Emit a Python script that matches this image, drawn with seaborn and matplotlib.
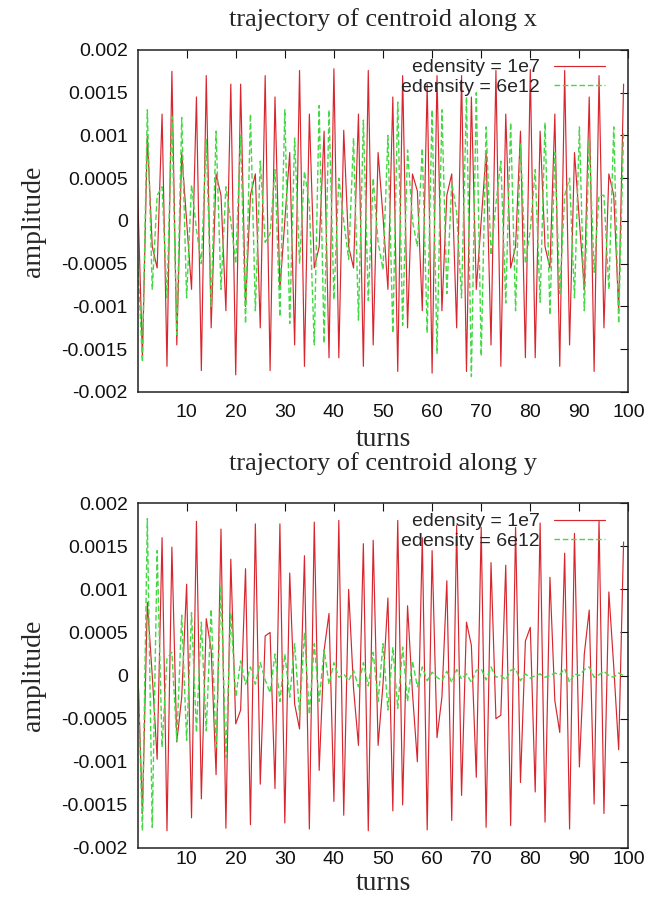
import numpy as np
import seaborn as sb
import matplotlib.pyplot as plt
from matplotlib.ticker import FixedLocator, FixedFormatter

# turn index and centroid amplitudes (units of 1e-3)
turns = list(range(100))

x_1e7 = [0.4, -1.6, 1.0, -0.3, -0.55, 1.25, -1.7, 1.75, -1.45, 0.8,
         0.0, -0.8, 1.45, -1.75, 1.7, -1.25, 0.55, 0.3, -1.05, 1.6,
         -1.8, 1.6, -1.0, 0.3, 0.55, -1.25, 1.7, -1.75, 1.45, -0.8,
         0.0, 0.8, -1.45, 1.76, -1.7, 1.25, -0.55, -0.3, 1.05, -1.6,
         1.78, -1.6, 1.06, -0.3, -0.55, 1.25, -1.7, 1.76, -1.45, 0.8,
         0.05, -0.8, 1.45, -1.76, 1.7, -1.25, 0.55, 0.35, -1.05, 1.6,
         -1.78, 1.7, -1.05, 0.3, 0.55, -1.25, 1.7, -1.76, 1.45, -0.8,
         0.0, 0.8, -1.45, 1.76, -1.7, 1.25, -0.55, -0.3, 1.05, -1.6,
         1.77, -1.6, 1.05, -0.3, -0.55, 1.25, -1.7, 1.76, -1.45, 0.8,
         0.0, -0.8, 1.45, -1.76, 1.7, -1.25, 0.55, 0.3, -1.05, 1.6]

x_6e12 = [-0.4, -1.65, 1.3, -0.8, 0.3, 0.4, -0.9, 1.22, -1.33, 1.21,
          -0.9, 0.42, -0.1, -0.5, 0.95, -1.0, 1.05, -0.8, 0.4, 0.0,
          -0.5, 1.0, -1.2, 1.25, -1.05, 0.7, -0.25, -0.15, 0.6, -1.12,
          1.3, -1.2, 0.97, -0.5, 0.58, 0.2, -1.45, 1.35, -1.43, 1.3,
          -0.92, 0.5, 0.0, -0.45, 0.97, -1.16, 1.18, -0.93, 0.5, -0.25,
          -0.57, 1.0, -1.31, 1.39, -1.22, 0.83, 0.0, -0.3, 0.85, -1.31,
          1.3, -1.55, 1.3, -0.85, 0.45, 0.1, -0.9, 1.45, -1.82, 1.5,
          -1.58, 1.1, -0.4, 0.2, 0.7, -0.96, 1.15, -1.05, 0.9, -0.5,
          -0.1, 0.6, -0.95, 1.15, -1.1, 0.8, -0.85, 0.3, 0.5, -0.9,
          1.1, -1.05, 0.95, -0.6, 0.3, 0.3, -0.8, 1.1, -1.2, 1.05]

y_1e7 = [0.2, -1.6, 0.85, 0.0, -0.97, 1.6, -1.8, 1.49, -0.77, -0.25,
         1.06, -1.65, 1.79, -1.43, 0.66, 0.3, -1.15, 1.7, -1.77, 1.35,
         -0.56, -0.4, 1.24, -1.73, 1.76, -1.26, 0.46, 0.5, -1.31, 1.76,
         -1.71, 1.19, -0.33, -0.62, 1.39, -1.78, 1.78, -1.1, 0.29, 0.72,
         -1.46, 1.8, -1.62, 1.0, -0.15, -0.81, 1.53, -1.8, 1.57, -0.81,
         -0.1, 0.9, -1.57, 1.8, -1.5, 0.81, -0.2, -1.0, 1.6, -1.79,
         1.45, -0.72, -0.25, 1.1, -1.68, 1.74, -1.39, 0.62, 0.35, -1.18,
         1.72, -1.76, 1.31, -0.5, -0.46, 1.28, -1.74, 1.72, -1.24, 0.4,
         0.56, -1.35, 1.77, -1.7, 1.14, -0.29, -0.66, 1.42, -1.78, 1.65,
         -1.06, 0.25, 0.76, -1.49, 1.8, -1.6, 0.97, 0.1, -0.86, 1.55]

y_6e12 = [0.2, -1.8, 1.82, -1.76, 1.45, -0.83, 0.2, 0.27, -0.75, 0.7,
          -0.75, 0.73, -0.66, 0.62, -0.64, 0.77, -0.83, 1.04, -0.95, 0.73,
          -0.25, 0.17, -0.1, 0.1, -0.1, 0.15, -0.05, -0.2, 0.25, -0.3,
          0.25, -0.25, 0.37, -0.45, 0.5, -0.45, 0.37, -0.3, 0.3, -0.1,
          0.15, -0.02, 0.02, -0.06, 0.06, -0.13, 0.15, -0.12, 0.27, -0.3,
          0.37, -0.4, 0.33, -0.38, 0.33, -0.3, 0.17, -0.13, 0.1, -0.06,
          0.04, -0.02, -0.06, 0.05, -0.08, 0.07, -0.04, 0.02, -0.08, 0.06,
          0.08, -0.05, 0.1, -0.02, 0.0, -0.05, 0.06, 0.08, -0.06, 0.02,
          -0.03, 0.0, 0.02, -0.02, 0.0, 0.03, 0.01, 0.08, -0.08, 0.02,
          0.0, 0.07, 0.1, -0.02, 0.01, 0.05, 0.0, -0.02, 0.03, 0.0]

ytick_vals = [-0.002, -0.0015, -0.001, -0.0005, 0, 0.0005, 0.001, 0.0015, 0.002]
ytick_labels = ["-0.002", "-0.0015", "-0.001", "-0.0005", "0", "0.0005", "0.001", "0.0015", "0.002"]
xtick_vals = [10, 20, 30, 40, 50, 60, 70, 80, 90, 100]

sb.set_style("white")
plt.rcParams['font.family'] = ['Liberation Sans', 'DejaVu Sans']
serif = ['Liberation Serif', 'DejaVu Serif']

red = '#d8262e'
green = '#44d844'

fig = plt.figure(figsize=(6.49, 9.05), dpi=100)
ax1 = fig.add_axes([0.2119, 0.5669, 0.7565, 0.3779])
ax2 = fig.add_axes([0.2119, 0.063, 0.7565, 0.381])


def panel(ax, red_vals, green_vals, title, pad, xpad, xlab_y, leg_y):
    sb.lineplot(x=turns, y=np.array(red_vals) * 1e-3, ax=ax, color=red,
                linewidth=0.85, label="edensity = 1e7")
    sb.lineplot(x=turns, y=np.array(green_vals) * 1e-3, ax=ax, color=green,
                linewidth=1.0, linestyle=(0, (4, 2)), label="edensity = 6e12")
    ax.set_xlim(0, 100)
    ax.set_ylim(-0.002, 0.002)
    ax.xaxis.set_major_locator(FixedLocator(xtick_vals))
    ax.yaxis.set_major_locator(FixedLocator(ytick_vals))
    ax.yaxis.set_major_formatter(FixedFormatter(ytick_labels))
    ax.tick_params(direction='in', top=True, right=True, length=6, width=0.8,
                   labelsize=14, pad=7, colors='#111111')
    ax.tick_params(axis='x', pad=xpad)
    for s in ax.spines.values():
        s.set_linewidth(1.1)
        s.set_color('#222222')
    ax.set_title(title, family=serif, fontsize=19, pad=pad)
    ax.set_xlabel("turns", family=serif, fontsize=20)
    ax.set_ylabel("amplitude", family=serif, fontsize=20)
    ax.xaxis.set_label_coords(0.5, xlab_y)
    ax.yaxis.set_label_coords(-0.187, 0.5)
    ax.legend(loc='upper right', bbox_to_anchor=(0.952, leg_y), frameon=False,
              markerfirst=False, fontsize=14, handlelength=2.6, handletextpad=0.75,
              labelspacing=0.08, borderaxespad=0, borderpad=0)


panel(ax1, x_1e7, x_6e12, "trajectory of centroid along x", 17.5, 9, -0.102, 0.974)
panel(ax2, y_1e7, y_6e12, "trajectory of centroid along y", 24, 2.5, -0.066, 0.972)

fig.savefig("out.png", dpi=100)
